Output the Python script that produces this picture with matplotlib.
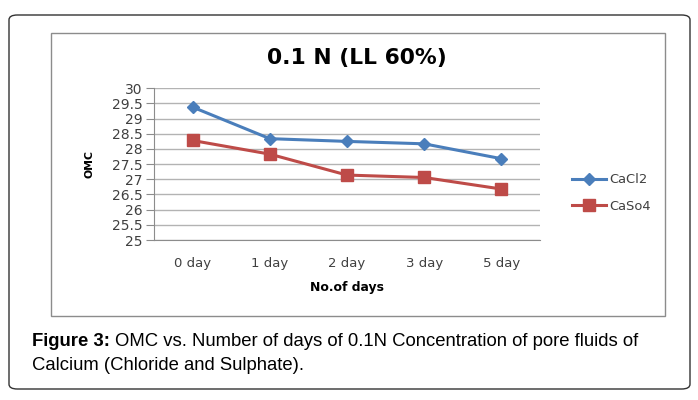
import matplotlib
matplotlib.use("Agg")
import matplotlib.pyplot as plt
from matplotlib.patches import FancyBboxPatch, Rectangle

days = ["0 day", "1 day", "2 day", "3 day", "5 day"]
cacl2 = [29.38, 28.34, 28.25, 28.17, 27.68]
caso4 = [28.28, 27.83, 27.14, 27.06, 26.68]
yticks = [25, 25.5, 26, 26.5, 27, 27.5, 28, 28.5, 29, 29.5, 30]

W, H = 698, 400
fig = plt.figure(figsize=(W / 100, H / 100), dpi=100)
fig.patch.set_facecolor("white")
chart_font = "DejaVu Sans"

def fx(px):
    return px / W

def fy(py):
    return 1 - py / H

# outer rounded frame
fig.patches.append(FancyBboxPatch((fx(9), fy(389)), fx(681), 374 / H,
                                  boxstyle="round,pad=0,rounding_size=0.012",
                                  transform=fig.transFigure, fill=False,
                                  edgecolor="#333333", linewidth=1.0))
# chart frame
fig.patches.append(Rectangle((fx(51), fy(316)), fx(614), 283 / H,
                             transform=fig.transFigure, fill=False,
                             edgecolor="#8c8c8c", linewidth=1.0))

ax = fig.add_axes([fx(154), fy(240), fx(386), 151.7 / H])
x = range(len(days))
ax.plot(x, cacl2, color="#4A7EBB", lw=2.2, marker="D", ms=6.5, label="CaCl2")
ax.plot(x, caso4, color="#BE4B48", lw=2.2, marker="s", ms=9, label="CaSo4")

ax.set_xlim(-0.5, 4.5)
ax.set_ylim(25, 30)
ax.set_yticks(yticks)
ax.set_yticklabels([f"{v:g}" for v in yticks])
ax.set_xticks(list(x))
ax.set_xticklabels(days)
ax.grid(axis="y", color="#b3b3b3", lw=1.0)
ax.set_axisbelow(True)
for s in ["top", "right"]:
    ax.spines[s].set_visible(False)
for s in ["left", "bottom"]:
    ax.spines[s].set_color("#8c8c8c")
ax.tick_params(axis="y", colors="#8c8c8c", length=6, labelcolor="#404040",
               labelsize=10, pad=2)
ax.tick_params(axis="x", length=0, labelcolor="#404040", labelsize=9.5, pad=12)
for t in ax.get_xticklabels() + ax.get_yticklabels():
    t.set_family(chart_font)

ax.set_xlabel("No.of days", family=chart_font, fontweight="bold", fontsize=8.9,
              labelpad=8)
ax.set_ylabel("OMC", family=chart_font, fontweight="bold", fontsize=7.8,
              labelpad=13)

fig.text(fx(357), fy(58), "0.1 N (LL 60%)", family=chart_font,
         fontweight="bold", fontsize=15.7, ha="center", va="center")

leg = ax.legend(loc="center left", bbox_to_anchor=(fx(560), fy(193)),
                bbox_transform=fig.transFigure, frameon=False,
                prop={"family": chart_font, "size": 9.4}, handlelength=2.6,
                handletextpad=0.3, labelspacing=1.0)
for t in leg.get_texts():
    t.set_color("#404040")

fig.text(fx(32), fy(341), "Figure 3:", family="Liberation Sans",
         fontweight="bold", fontsize=13.3, va="center")
fig.text(fx(115), fy(341),
         "OMC vs. Number of days of 0.1N Concentration of pore fluids of",
         family="Liberation Sans", fontsize=13.3, va="center")
fig.text(fx(32), fy(365), "Calcium (Chloride and Sulphate).",
         family="Liberation Sans", fontsize=13.3, va="center")

fig.savefig("out.png", dpi=100)
